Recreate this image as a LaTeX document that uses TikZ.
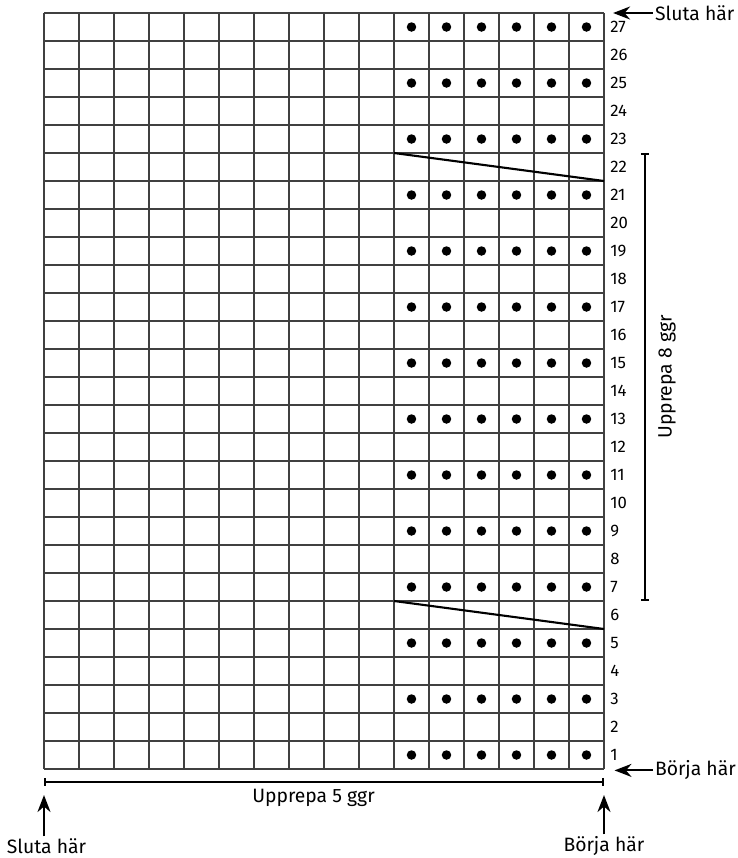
\documentclass[tikz,border=0pt]{standalone}
\usepackage{fontspec}
\setmainfont{Fira Sans}
\usetikzlibrary{arrows.meta, positioning}
\tikzstyle{gridline} = [black!75, line width=0.6pt]
\tikzstyle{prick} = [fill=black]
\tikzstyle{slant} = [line width=1.2pt]
\tikzstyle{radnr} = [anchor=west, inner sep=0pt, font=\fontsize{9.5}{11}\selectfont]
\tikzstyle{label} = [inner sep=1pt, font=\fontsize{11}{13}\selectfont]
\tikzstyle{arrow} = [line width=1.2pt, -{Stealth[length=3.4mm, width=2.6mm]}]
\tikzstyle{bracket} = [line width=1.2pt, {Bar[width=1.6mm]}-{Bar[width=1.6mm]}]

\begin{document}
\begin{tikzpicture}[node distance=0.1cm, x=0.7cm, y=0.56cm]
        \useasboundingbox (-0.88cm,-1.78cm) rectangle (13.88cm,15.38cm);

        % rutnat
        \foreach \c in {0,...,16}
            \draw [gridline] (\c,0) -- (\c,27);
        \foreach \r in {0,...,27}
            \draw [gridline] (0,\r) -- (16,\r);

        % prickar pa udda varv
        \foreach \r in {1,3,...,27}
            \foreach \c in {11,...,16}
                \fill [prick] (\c-0.5,\r-0.5) circle (0.095cm);

        % varvnummer
        \foreach \r in {1,...,27}
            \node (nr\r) [radnr] at (16.17,\r-0.5) {\r};

        \coordinate (a22) at (10,22);
        \coordinate (b22) at (16,21);
        \coordinate (a6) at (10,6);
        \coordinate (b6) at (16,5);
        \draw [slant] (a22) -- (b22);
        \draw [slant] (a6) -- (b6);

        % upprepa
        \coordinate (vTop) at (17.17,22);
        \coordinate (vBot) at (17.17,6);
        \draw [bracket] (vTop) -- (vBot);
        \node (upp8) [label, rotate=90] at (17.8,14) {Upprepa 8 ggr};

        \coordinate (hLeft) at (0,-0.46);
        \coordinate (hRight) at (16,-0.46);
        \coordinate (hMid) at (7.7,-0.46);
        \draw [bracket] (hLeft) -- (hRight);
        \node (upp5) [label, below=of hMid] {Upprepa 5 ggr};

        % start och slut
        \node (slutaTop) [label, anchor=west] at (17.4,27) {Sluta här};
        \coordinate (slutaTopEnd) at (16.26,27);
        \draw [arrow] (slutaTop.west) -- (slutaTopEnd);

        \node (borjaRight) [label, anchor=west] at (17.4,-0.05) {Börja här};
        \coordinate (borjaRightEnd) at (16.3,-0.05);
        \draw [arrow] (borjaRight.west) -- (borjaRightEnd);

        \coordinate (slutaUp) at (0,-0.93);
        \node (slutaBot) [label] at (0.07,-2.75) {Sluta här};
        \draw [arrow] (slutaBot.north -| slutaUp) -- (slutaUp);

        \coordinate (borjaUp) at (16,-0.93);
        \node (borjaBot) [label] at (16,-2.75) {Börja här};
        \draw [arrow] (borjaBot.north) -- (borjaUp);

    \end{tikzpicture}
\end{document}
